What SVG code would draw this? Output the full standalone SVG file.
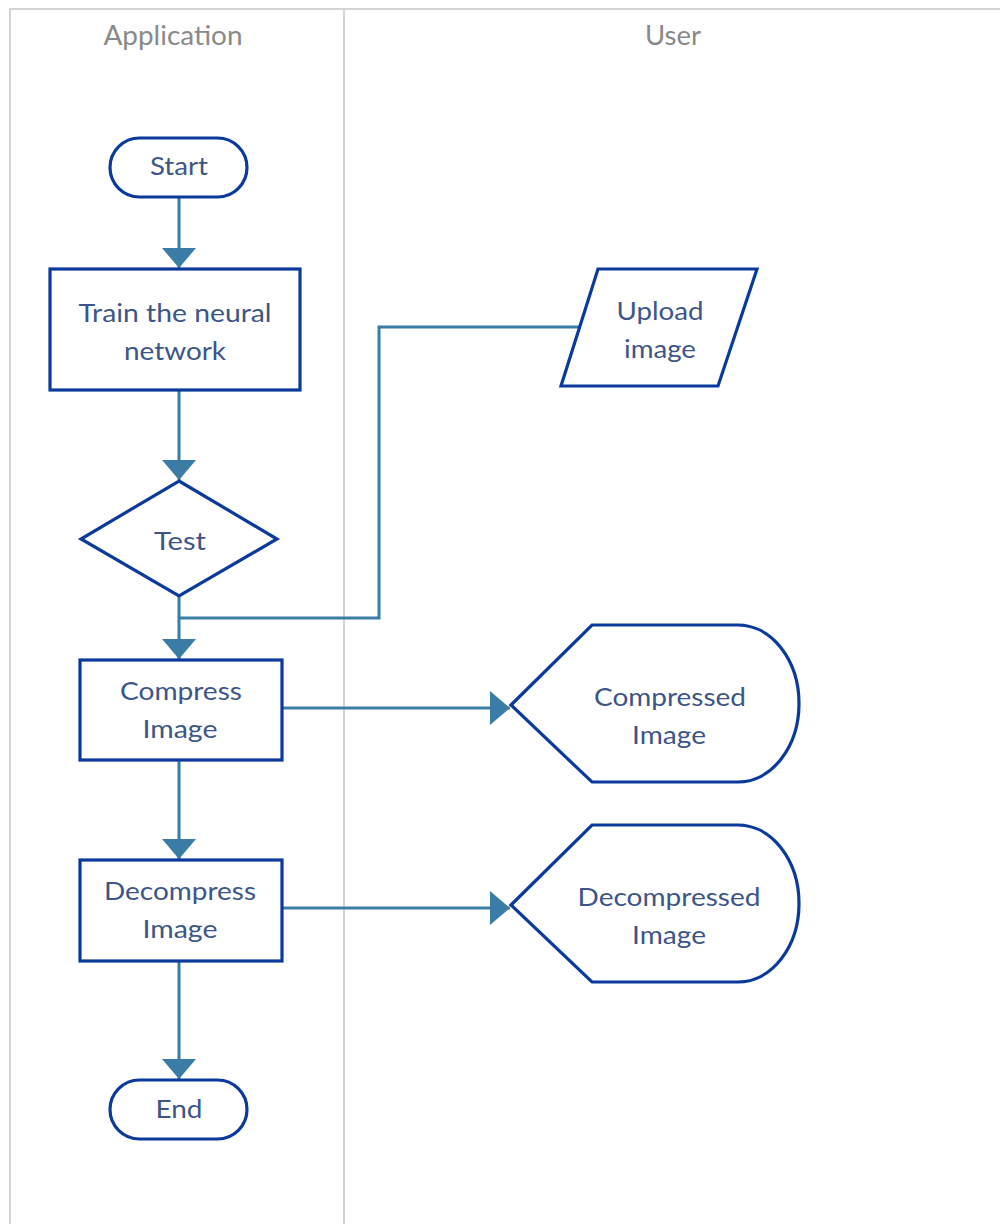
<svg xmlns="http://www.w3.org/2000/svg" width="1000" height="1224" viewBox="0 0 1000 1224">
<style>
.lane{fill:none;stroke:#d4d4d4;stroke-width:2}
.hd{font-family:Lato,"Liberation Sans",sans-serif;font-size:26px;fill:#8a8a8a;text-anchor:middle}
.n{fill:#fff;stroke:#0b3a9c;stroke-width:3.2}
.t{font-family:Lato,"Liberation Sans",sans-serif;font-size:25px;fill:#3d5588;text-anchor:middle}
.c{fill:none;stroke:#3a7ca5;stroke-width:3}
</style>
<defs>
<marker id="ah" viewBox="0 0 20 34" refX="20" refY="17" markerWidth="20" markerHeight="34" markerUnits="userSpaceOnUse" orient="auto">
<path d="M0,0 L20,17 L0,34 Z" fill="#3a7ca5"/>
</marker>
</defs>
<rect width="1000" height="1224" fill="#fff"/>
<g id="lanes">
<path class="lane" d="M10,1224 V9 H1000 M344,9 V1224"/>
<text class="hd" x="173" y="45" textLength="139" lengthAdjust="spacingAndGlyphs">Application</text>
<text class="hd" x="673" y="45" textLength="56" lengthAdjust="spacingAndGlyphs">User</text>
</g>
<g id="connectors">
<path class="c" d="M179,197 V268" marker-end="url(#ah)"/>
<path class="c" d="M179,390 V480" marker-end="url(#ah)"/>
<path class="c" d="M179,596 V659" marker-end="url(#ah)"/>
<path class="c" d="M580,327 H379 V618 H179"/>
<path class="c" d="M282,708 H510" marker-end="url(#ah)"/>
<path class="c" d="M179,760 V859" marker-end="url(#ah)"/>
<path class="c" d="M282,908 H510" marker-end="url(#ah)"/>
<path class="c" d="M179,961 V1079" marker-end="url(#ah)"/>
</g>
<g id="start">
<rect class="n" x="110" y="138" width="137" height="59" rx="29.5"/>
<text class="t" x="179" y="175" textLength="58" lengthAdjust="spacingAndGlyphs">Start</text>
</g>
<g id="train">
<rect class="n" x="50" y="269" width="250" height="121"/>
<text class="t" x="175" y="322" textLength="193" lengthAdjust="spacingAndGlyphs">Train the neural</text>
<text class="t" x="175" y="360" textLength="102" lengthAdjust="spacingAndGlyphs">network</text>
</g>
<g id="test">
<path class="n" d="M179,481 L277,539 L179,596 L81,539 Z"/>
<text class="t" x="180" y="550" textLength="52" lengthAdjust="spacingAndGlyphs">Test</text>
</g>
<g id="upload">
<path class="n" d="M598,269 H757 L718,386 H561 Z"/>
<text class="t" x="660" y="320" textLength="87" lengthAdjust="spacingAndGlyphs">Upload</text>
<text class="t" x="660" y="358" textLength="72" lengthAdjust="spacingAndGlyphs">image</text>
</g>
<g id="compress">
<rect class="n" x="80" y="660" width="202" height="100"/>
<text class="t" x="181" y="700" textLength="122" lengthAdjust="spacingAndGlyphs">Compress</text>
<text class="t" x="180" y="738" textLength="75" lengthAdjust="spacingAndGlyphs">Image</text>
</g>
<g id="compressed">
<path class="n" d="M511,705 L592,625 H738 A61,78.5 0 0 1 738,782 H592 Z"/>
<text class="t" x="670" y="706" textLength="152" lengthAdjust="spacingAndGlyphs">Compressed</text>
<text class="t" x="669" y="744" textLength="74" lengthAdjust="spacingAndGlyphs">Image</text>
</g>
<g id="decompress">
<rect class="n" x="80" y="860" width="202" height="101"/>
<text class="t" x="180" y="900" textLength="152" lengthAdjust="spacingAndGlyphs">Decompress</text>
<text class="t" x="180" y="938" textLength="75" lengthAdjust="spacingAndGlyphs">Image</text>
</g>
<g id="decompressed">
<path class="n" d="M511,905 L592,825 H738 A61,78.5 0 0 1 738,982 H592 Z"/>
<text class="t" x="669" y="906" textLength="183" lengthAdjust="spacingAndGlyphs">Decompressed</text>
<text class="t" x="669" y="944" textLength="74" lengthAdjust="spacingAndGlyphs">Image</text>
</g>
<g id="end">
<rect class="n" x="110" y="1080" width="137" height="59" rx="29.5"/>
<text class="t" x="179" y="1118" textLength="47" lengthAdjust="spacingAndGlyphs">End</text>
</g>
</svg>
